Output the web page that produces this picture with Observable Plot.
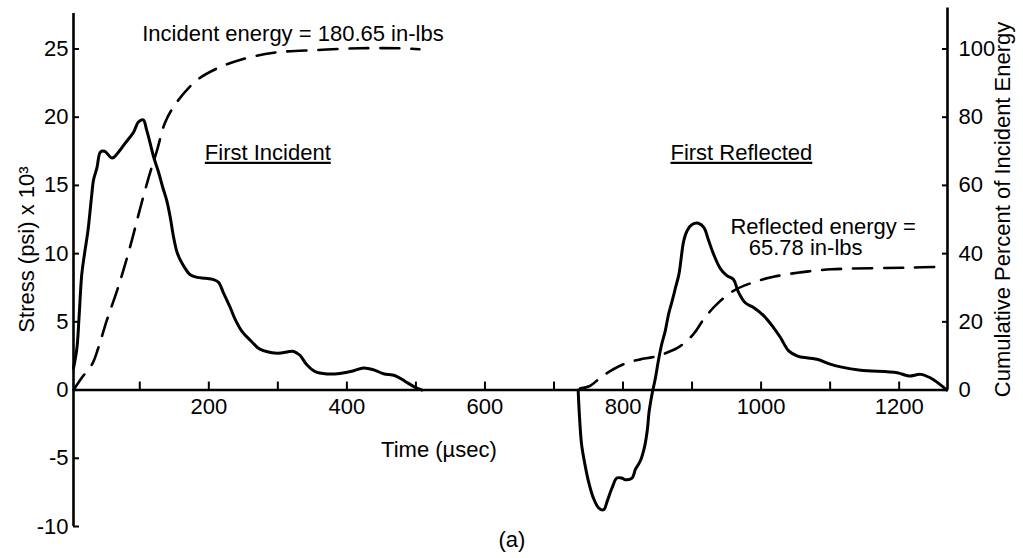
<!DOCTYPE html>
<html><head><meta charset="utf-8">
<script src="https://cdn.jsdelivr.net/npm/d3@7"></script>
<script src="https://cdn.jsdelivr.net/npm/@observablehq/plot@0.6"></script>
<style>
html,body{margin:0;padding:0;background:#fff;}
#chart svg{display:block;}
</style></head><body><div id="chart"></div>
<script>
// ---- data (time in µsec, stress in ksi, energy in % of incident) ----
const incidentTime = [4,9,12,16,20,25,30,33,38,43,49,60,67,79,91,98,105,110,115,120,127,133,139,144,149,154,159,166,173,183,195,207,214,221,231,238,248,260,274,299,323,332,342,354,371,390,410,424,439,453,470,484,499,509];
const incidentStress = [1.6,3.1,5.3,8.5,10.0,11.7,14.1,15.4,16.3,17.45,17.5,17.0,17.3,18.1,18.9,19.65,19.8,19.05,18.1,17.1,16.0,14.9,13.9,12.7,11.2,10.1,9.5,8.9,8.45,8.26,8.2,8.1,7.9,7.15,6.05,5.2,4.3,3.65,3.0,2.7,2.83,2.55,1.85,1.35,1.18,1.22,1.42,1.62,1.48,1.2,1.05,0.65,0.2,0.0];
const reflectedTime = [735,737,740,745,750,757,765,772,777,784,791,798,803,813,818,825,831,835,838,842,847,851,856,861,866,871,876,881,888,893,900,909,917,924,931,941,950,960,967,977,989,1004,1018,1028,1040,1052,1057,1081,1100,1115,1144,1197,1214,1231,1245,1259,1269];
const reflectedStress = [0,-2.0,-4.0,-5.5,-6.7,-7.9,-8.65,-8.77,-8.16,-7.18,-6.45,-6.45,-6.57,-6.45,-5.8,-5.2,-4.2,-3.0,-1.5,-0.3,0.9,2.1,3.36,4.3,5.57,6.5,7.5,8.5,10.96,11.7,12.13,12.23,11.93,10.96,9.98,8.9,8.4,8.1,7.2,6.4,6.05,5.44,4.58,3.85,2.87,2.5,2.43,2.26,1.9,1.7,1.45,1.27,1.03,1.15,0.9,0.42,0.0];
const incidentEnergyTime = [4,16,31,40,52,67,79,91,101,113,125,137,154,183,212,245,294,357,419,477,505];
const incidentEnergyPct = [0,3.6,7.6,12.4,20.3,29.1,37,45.8,53.6,62.4,70.3,78.6,84.5,90.9,94.3,96.8,98.9,99.7,100.2,100.2,99.9];
const reflectedEnergyTime = [738,752,767,786,806,825,844,864,883,902,917,936,960,989,1018,1057,1102,1216,1267];
const reflectedEnergyPct = [0.5,1.2,3.6,6.1,8.0,9.0,9.7,11,12.9,16.4,20.8,25.2,29.1,31.6,33.2,34.5,35.4,35.9,36.2];

const xMinorTicks = [100,200,300,400,500,600,700,800,900,1000,1100,1200];
const xLabelTicks = [200,400,600,800,1000,1200];
const leftTicks = [-10,-5,0,5,10,15,20,25];
const rightTicks = [0,20,40,60,80,100];
const pctPerStress = 4; // 25 ksi on the left lines up with 100 % on the right

const labels = {
  incidentEnergy: "Incident energy = 180.65 in-lbs",
  firstIncident: "First Incident",
  firstReflected: "First Reflected",
  reflectedEnergy: "Reflected energy =\n\u00a0\u00a0\u00a065.78 in-lbs",
  xTitle: "Time (µsec)",
  yTitle: "Stress (psi) x 10³",
  y2Title: "Cumulative Percent of Incident Energy",
  caption: "(a)"
};

// ---- layout ----
const W = 1023, H = 558;
const xDomain = [4, 1270], yDomain = [-10, 27.6];
const rightAxisTop = 28.0;
const M = {top: 13, right: 76, bottom: 32, left: 73};
const plotH = H - M.top - M.bottom;
const zeroOffset = plotH * (0 - yDomain[0]) / (yDomain[1] - yDomain[0]);

const incident = incidentTime.map((t, i) => ({t, s: incidentStress[i]}));
const reflected = reflectedTime.map((t, i) => ({t, s: reflectedStress[i]}));
const incE = incidentEnergyTime.map((t, i) => ({t, p: incidentEnergyPct[i]}));
const refE = reflectedEnergyTime.map((t, i) => ({t, p: reflectedEnergyPct[i]}));

const txt = (s, x, y, o = {}) => Plot.text([s], {x: () => x, y: () => y, text: d => d, lineAnchor: "bottom", textAnchor: "start", fill: "#000", ...o});

const chart = Plot.plot({
  width: W, height: H,
  marginTop: M.top, marginRight: M.right, marginBottom: M.bottom, marginLeft: M.left,
  style: {fontFamily: "'Liberation Sans', Arial, Helvetica, sans-serif", fontSize: "22px", color: "#000", background: "#fff", overflow: "visible"},
  x: {domain: xDomain},
  y: {domain: yDomain},
  marks: [
    // axis lines
    Plot.ruleY([0], {stroke: "#000", strokeWidth: 2.6}),
    Plot.ruleX([xDomain[0]], {y1: yDomain[0], y2: yDomain[1], stroke: "#000", strokeWidth: 2.6}),
    Plot.ruleX([xDomain[1]], {y1: 0, y2: rightAxisTop, stroke: "#000", strokeWidth: 2.6}),
    // left axis
    Plot.axisY({anchor: "left", ticks: leftTicks, tickSize: 6, dx: 6, fill: "none", stroke: "#000", strokeWidth: 2, label: null}),
    Plot.axisY({anchor: "left", ticks: leftTicks, tickSize: 0, tickPadding: 5, fill: "#000", label: null, tickFormat: d => String(d)}),
    // right axis
    Plot.axisY({anchor: "right", ticks: rightTicks.map(p => p / pctPerStress), tickSize: 6, dx: -6, fill: "none", stroke: "#000", strokeWidth: 2, label: null}),
    Plot.axisY({anchor: "right", ticks: rightTicks.map(p => p / pctPerStress), tickSize: 0, tickPadding: 11, fill: "#000", label: null, tickFormat: d => String(Math.round(d * pctPerStress))}),
    // x axis at zero
    Plot.axisX({anchor: "bottom", ticks: xMinorTicks, tickSize: 8, dy: -zeroOffset - 8, fill: "none", stroke: "#000", strokeWidth: 2, label: null}),
    Plot.axisX({anchor: "bottom", ticks: xLabelTicks, tickSize: 0, tickPadding: 8, dy: -zeroOffset, fill: "#000", label: null, tickFormat: d => String(d)}),
    // curves
    Plot.line(incident, {x: "t", y: "s", stroke: "#000", strokeWidth: 3, curve: "catmull-rom"}),
    Plot.line(reflected, {x: "t", y: "s", stroke: "#000", strokeWidth: 3, curve: "catmull-rom"}),
    Plot.line(incE, {x: "t", y: d => d.p / pctPerStress, stroke: "#000", strokeWidth: 2.6, strokeDasharray: "19,12", curve: "catmull-rom"}),
    Plot.line(refE, {x: "t", y: d => d.p / pctPerStress, stroke: "#000", strokeWidth: 2.6, strokeDasharray: "19,12", curve: "catmull-rom"}),
    // annotations
    txt(labels.incidentEnergy, 103.5, 25.57),
    txt(labels.firstIncident, 194.2, 16.88),
    txt(labels.firstReflected, 868.7, 16.88),
    txt(labels.reflectedEnergy, 955.6, 9.865, {lineHeight: 0.99}),
    txt(labels.xTitle, 533.4, -4.87, {textAnchor: "middle"}),
    txt(labels.caption, 639.1, -11.51, {textAnchor: "middle"}),
    txt(labels.yTitle, -53.5, 10.3, {textAnchor: "middle", rotate: -90}),
    txt(labels.y2Title, 1361.2, 13.24, {textAnchor: "middle", rotate: -90})
  ]
});

const underlined = [labels.firstIncident, labels.firstReflected];
chart.querySelectorAll("text").forEach(t => {
  if (underlined.includes(t.textContent)) t.style.textDecoration = "underline";
});
document.getElementById("chart").appendChild(chart);
</script>
</body></html>
